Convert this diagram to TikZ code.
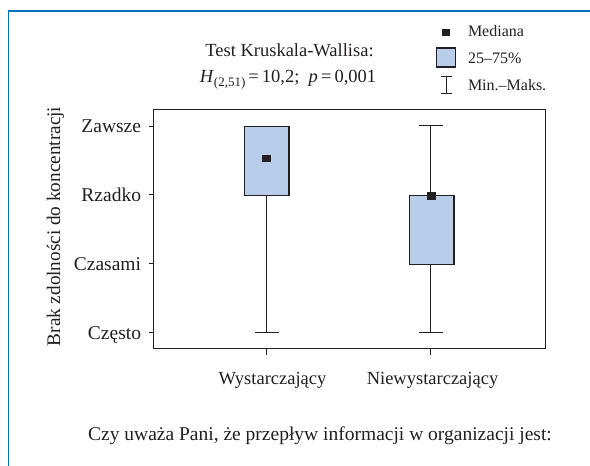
\documentclass[tikz,border=0pt]{standalone}
\usepackage{fontspec}
\setmainfont{Liberation Serif}
\definecolor{framblue}{RGB}{0,114,188}
\definecolor{boxfill}{RGB}{183,205,233}
\definecolor{ink}{RGB}{35,31,32}
\begin{document}
\begin{tikzpicture}[x=1pt,y=-1pt,
  txt/.style={inner sep=0pt,outer sep=0pt,text=ink,font=\fontsize{18.5}{22}\selectfont},
  ticklab/.style={inner sep=0pt,outer sep=0pt,text=ink,font=\fontsize{19.5}{23}\selectfont,anchor=base east},
  lgd/.style={inner sep=0pt,outer sep=0pt,text=ink,font=\fontsize{16}{19}\selectfont,anchor=base west},
  iqr/.style={draw=ink,line width=1.1pt,fill=boxfill},
  whisk/.style={draw=ink,line width=0.9pt},
  axis/.style={draw=ink,line width=1pt}]
\useasboundingbox (0,0) rectangle (590,466);
% blue frame
\draw[framblue,line width=1.6pt] (8.5,466) -- (8.5,11) -- (590,11);

% title
\node[txt,anchor=base] (t1) at (289.5,56.5) {Test Kruskala-Wallisa:};
\node[txt,anchor=base] (t2) at (288,82.5) {\textit{H}\raisebox{-0.45ex}{\fontsize{13}{13}\selectfont(2,51)}\,=\,10,2;\ \ \textit{p}\,=\,0,001};

% legend
\fill[ink] (442,28.5) rectangle (450,35.5);
\node[lgd] (l1) at (468,36.8) {Mediana};
\draw[iqr] (436.5,48) rectangle (455.5,67);
\node[lgd] (l2) at (468,63.3) {25–75\%};
\draw[whisk] (446.5,76.5) -- (446.5,93);
\draw[whisk] (441,76.5) -- (452,76.5);
\draw[whisk] (441,93) -- (452,93);
\node[lgd] (l3) at (468,90) {Min.–Maks.};

% plot frame
\draw[axis] (153.5,109.7) rectangle (545.7,348.3);
% y ticks
\foreach \yy/\lab in {126/Zawsze,194.8/Rzadko,263.7/Czasami,332.5/Często}{
  \draw[axis] (148.5,\yy) -- (153.5,\yy);
  \node[ticklab] at (141,\yy+6.6) {\lab};
}
% x ticks
\draw[axis] (266.7,348.3) -- (266.7,354.5);
\draw[axis] (430.7,348.3) -- (430.7,354.5);
\node[txt,anchor=base] (x1) at (272.5,384.5) {Wystarczający};
\node[txt,anchor=base] (x2) at (432.5,384.5) {Niewystarczający};

% y label
\node[txt,rotate=90,anchor=base,font=\fontsize{19.2}{22}\selectfont] (yl) at (60,226.5) {Brak zdolności do koncentracji};

% caption
\node[txt,anchor=base,font=\fontsize{19.5}{23}\selectfont] (cap) at (320,440) {Czy uważa Pani, że przepływ informacji w organizacji jest:};

% box 1: Wystarczający
\draw[whisk] (266.7,195.3) -- (266.7,332.5);
\draw[whisk] (255,332.5) -- (279.3,332.5);
\draw[iqr] (244.8,126.7) rectangle (289,195.3);
\fill[ink] (262.2,154.5) rectangle (271.2,162.3);

% box 2: Niewystarczający
\draw[whisk] (430.7,125.8) -- (430.7,195.7);
\draw[whisk] (419,125.8) -- (443.3,125.8);
\draw[whisk] (430.7,264.3) -- (430.7,332.5);
\draw[whisk] (419,332.5) -- (443.3,332.5);
\draw[iqr] (409.3,195.7) rectangle (454,264.3);
\fill[ink] (427,192) rectangle (436,200);
\end{tikzpicture}
\end{document}
